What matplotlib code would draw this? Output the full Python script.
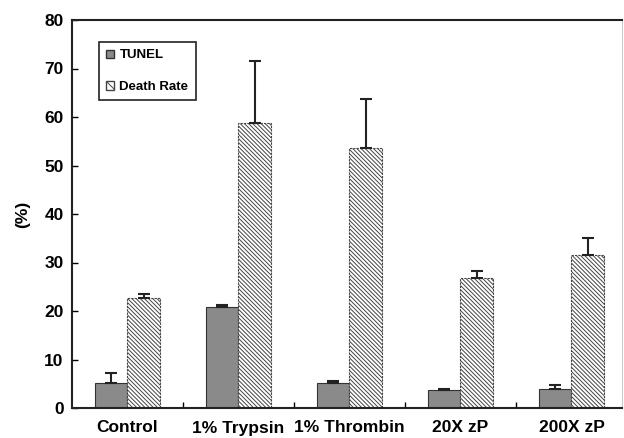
import numpy as np
import matplotlib.pyplot as plt
from matplotlib.patches import Patch

plt.rcParams['font.family'] = ['Liberation Sans', 'DejaVu Sans']
plt.rcParams['font.weight'] = 'bold'
plt.rcParams['hatch.linewidth'] = 0.7
plt.rcParams['hatch.color'] = '#555555'

# data
groups = ['Control', '1% Trypsin', '1% Thrombin', '20X zP', '200X zP']
tunel = [5.2, 20.8, 5.2, 3.8, 3.9]
tunel_err = [2.0, 0.4, 0.3, 0.2, 0.9]
death = [22.6, 58.7, 53.7, 26.8, 31.5]
death_err = [0.9, 12.9, 10.1, 1.4, 3.6]

fig = plt.figure(figsize=(6.24, 4.38), dpi=100)
ax = fig.add_axes([72 / 624, 30 / 438, 550 / 624, 388 / 438])

x = np.arange(len(groups))
w = 0.29

ax.bar(x - w / 2, tunel, w, color='#8a8a8a', edgecolor='#333333', linewidth=0.8)
ax.errorbar(x - w / 2, tunel, yerr=[np.zeros(5), tunel_err], fmt='none',
            ecolor='#222222', elinewidth=1.5, capsize=4, capthick=1.5)

ax.bar(x + w / 2, death, w, color='white', edgecolor='#444444', hatch='\\' * 8,
       linewidth=0.8, linestyle=(0, (2, 1)))
ax.errorbar(x + w / 2, death, yerr=[np.zeros(5), death_err], fmt='none',
            ecolor='#222222', elinewidth=1.5, capsize=4, capthick=1.5)

ax.set_xlim(-0.5, 4.455)
ax.set_ylim(0, 80)
ax.set_yticks(range(0, 81, 10))
ax.set_xticks(x)
ax.set_xticklabels(groups)
ax.set_xticks(x[:-1] + 0.5, minor=True)
ax.tick_params(axis='x', which='major', length=0, pad=9, labelsize=12.5)
ax.tick_params(axis='x', which='minor', direction='in', length=4, width=1)
ax.tick_params(axis='y', direction='in', length=4, width=1, labelsize=12.5, pad=6)
for s in ['left', 'bottom', 'top']:
    ax.spines[s].set_linewidth(1.5)
    ax.spines[s].set_color('#222222')
ax.spines['right'].set_color('#cccccc')
ax.spines['right'].set_linewidth(0.8)

ax.set_ylabel('(%)', fontsize=12.5, fontweight='bold', labelpad=10)

handles = [Patch(facecolor='#8a8a8a', edgecolor='#333333', label='TUNEL'),
           Patch(facecolor='white', edgecolor='#444444', hatch='\\' * 4, label='Death Rate')]
leg = ax.legend(handles=handles, loc='upper left', bbox_to_anchor=(0.049, 0.943),
                borderaxespad=0, fancybox=False, edgecolor='#222222', framealpha=1,
                prop={'size': 9.5, 'weight': 'bold'}, handlelength=0.6, handleheight=0.6,
                handletextpad=0.4, labelspacing=1.5, borderpad=0.55)
leg.get_frame().set_linewidth(1.2)

fig.savefig('out.png', dpi=100)
